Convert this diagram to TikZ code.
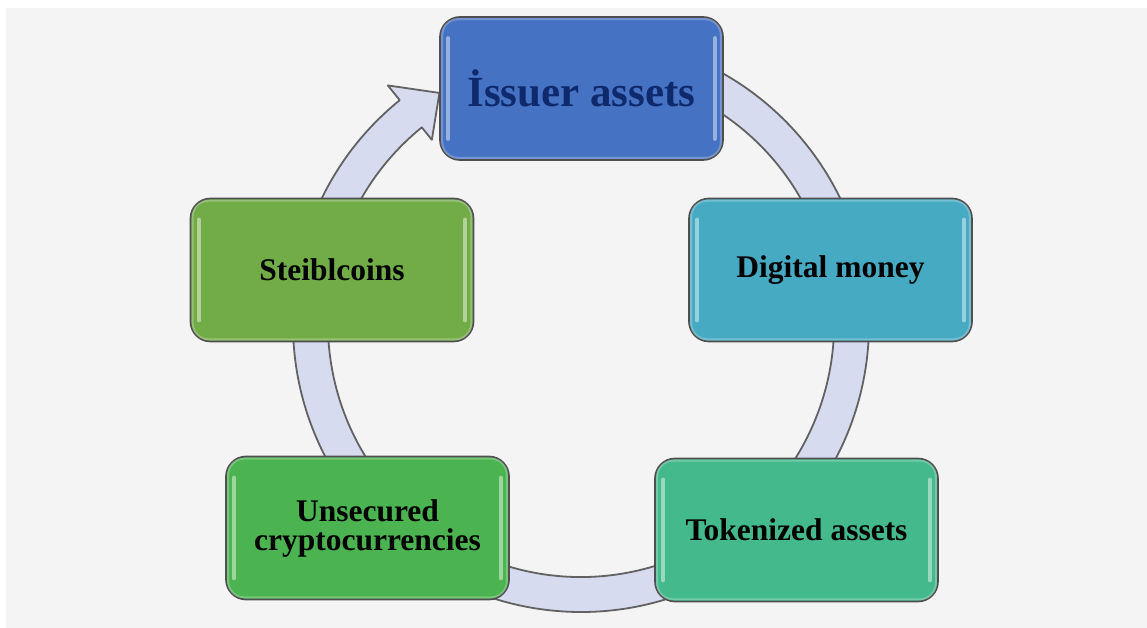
\documentclass[tikz,border=0pt]{standalone}
\usepackage{fontspec}
\setmainfont{Liberation Serif}
\usetikzlibrary{calc}
\definecolor{bggray}{HTML}{F4F4F4}
\definecolor{ringfill}{RGB}{214,219,240}
\definecolor{ringline}{HTML}{626262}
\definecolor{cIssuer}{HTML}{4672C4}
\definecolor{tIssuer}{HTML}{0F2A6C}
\definecolor{cDigital}{HTML}{47AAC3}
\definecolor{cToken}{HTML}{44B98B}
\definecolor{cUnsec}{HTML}{4BB34F}
\definecolor{cSteib}{HTML}{72AC47}
\definecolor{boxline}{HTML}{4F4F4F}
\newcommand\glossbox[1]{%
 \draw[glossline] ([xshift=9pt,yshift=22pt]#1.south west) -- ([xshift=9pt,yshift=-22pt]#1.north west);
 \draw[glossline] ([xshift=-9pt,yshift=22pt]#1.south east) -- ([xshift=-9pt,yshift=-22pt]#1.north east);
 \draw[rimline] ([shift={(3pt,3pt)}]#1.south west) rectangle ([shift={(-3pt,-3pt)}]#1.north east);}
\begin{document}
\begin{tikzpicture}[x=1pt,y=1pt,
 stagebox/.style={rectangle, rounded corners=20pt, draw=boxline, line width=1.7pt,
   minimum width=283pt, minimum height=143pt, inner sep=0pt, align=center,
   font=\bfseries\fontsize{31.5}{29}\selectfont},
 glossline/.style={white, opacity=0.45, line width=4pt, line cap=round},
 rimline/.style={white, opacity=0.25, line width=2pt, rounded corners=16pt}]
\useasboundingbox (0,0) rectangle (1147,628);
\fill[white] (0,0) rectangle (1147,628);
\fill[bggray] (6,0) rectangle (1147,620);
\coordinate (C) at (581,304);
\path[fill=ringfill, draw=ringline, line width=1.8pt, line join=round]
 ($(C)+(425:253)$) arc[start angle=425, end angle=129, radius=253]
 -- ($(C)+(129:237)$) -- ($(C)+(121.5:271)$) -- ($(C)+(129:307)$) -- ($(C)+(129:288)$)
 arc[start angle=129, end angle=425, radius=288] -- cycle;
\node[stagebox, fill=cIssuer, text=tIssuer, font=\bfseries\fontsize{43}{43}\selectfont] (a) at (581.5,539.5) {İssuer assets};
\node[stagebox, fill=cDigital] (b) at (830.5,358) {Digital money};
\node[stagebox, fill=cToken] (c) at (796.5,98) {Tokenized assets};
\node[stagebox, fill=cUnsec] (d) at (367.5,100) {Unsecured\\cryptocurrencies};
\node[stagebox, fill=cSteib] (e) at (332,358) {Steiblcoins};
\glossbox{a}\glossbox{b}\glossbox{c}\glossbox{d}\glossbox{e}
\end{tikzpicture}
\end{document}
